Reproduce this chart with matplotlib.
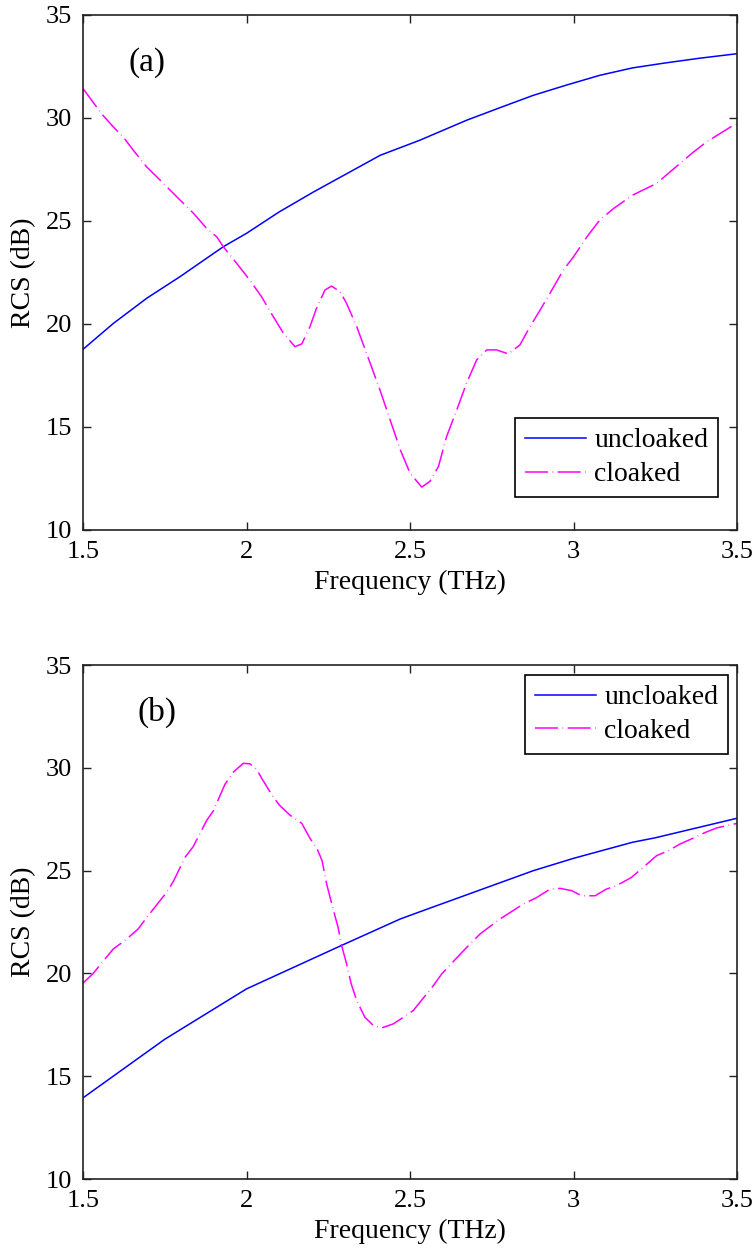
import matplotlib.pyplot as plt

plt.rcParams['font.family'] = ['Liberation Serif', 'DejaVu Serif']
plt.rcParams['font.size'] = 19

# -------------------------
# Data
# -------------------------
# (a) uncloaked
freq_a_unc = [1.5, 1.593, 1.695, 1.797, 1.929, 2.0, 2.10, 2.205, 2.307, 2.409,
              2.53, 2.673, 2.775, 2.877, 2.979, 3.08, 3.18, 3.28, 3.385, 3.5]
rcs_a_unc = [18.77, 20.03, 21.25, 22.3, 23.75, 24.4, 25.44, 26.41, 27.3, 28.19,
             28.92, 29.89, 30.5, 31.1, 31.6, 32.07, 32.43, 32.67, 32.9, 33.12]

# (a) cloaked
freq_a_clk = [1.5, 1.557, 1.593, 1.623, 1.654, 1.695, 1.736, 1.787, 1.838, 1.878,
              1.909, 1.929, 1.97, 2.01, 2.046, 2.082, 2.113, 2.148, 2.169, 2.194,
              2.214, 2.24, 2.26, 2.286, 2.306, 2.337, 2.367, 2.408, 2.439, 2.47,
              2.5, 2.536, 2.561, 2.587, 2.612, 2.643, 2.673, 2.704, 2.735, 2.765,
              2.8, 2.836, 2.867, 2.898, 2.928, 2.969, 3.0, 3.041, 3.08, 3.122,
              3.18, 3.254, 3.295, 3.367, 3.407, 3.48, 3.5]
rcs_a_clk = [31.43, 30.2, 29.56, 29.08, 28.43, 27.62, 26.98, 26.17, 25.37, 24.64,
             24.23, 23.75, 22.94, 22.13, 21.32, 20.35, 19.55, 18.9, 19.03, 19.87,
             20.76, 21.65, 21.84, 21.57, 21.0, 19.87, 18.58, 16.8, 15.35, 13.9,
             12.76, 12.08, 12.36, 13.08, 14.54, 15.83, 17.13, 18.26, 18.74, 18.74,
             18.55, 18.98, 19.87, 20.68, 21.49, 22.62, 23.26, 24.23, 25.04, 25.6,
             26.25, 26.82, 27.38, 28.35, 28.84, 29.56, 29.7]

# (b) uncloaked
freq_b_unc = [1.5, 1.75, 2.0, 2.29, 2.47, 2.53, 2.877, 3.0, 3.18, 3.25, 3.5]
rcs_b_unc = [13.95, 16.8, 19.25, 21.36, 22.65, 23.0, 25.0, 25.6, 26.38, 26.6, 27.55]

# (b) cloaked
freq_b_clk = [1.5, 1.531, 1.593, 1.628, 1.669, 1.695, 1.756, 1.777, 1.812, 1.837,
              1.878, 1.899, 1.934, 1.96, 1.99, 2.01, 2.03, 2.05, 2.077, 2.10,
              2.133, 2.169, 2.195, 2.216, 2.231, 2.245, 2.266, 2.28, 2.29, 2.306,
              2.32, 2.337, 2.362, 2.388, 2.413, 2.449, 2.48, 2.51, 2.571, 2.597,
              2.663, 2.694, 2.714, 2.775, 2.847, 2.888, 2.928, 2.959, 2.994, 3.025,
              3.066, 3.10, 3.13, 3.177, 3.213, 3.254, 3.29, 3.326, 3.367, 3.403,
              3.438, 3.5]
rcs_b_clk = [19.53, 20.0, 21.2, 21.6, 22.17, 22.73, 23.95, 24.5, 25.65, 26.17,
             27.44, 27.92, 29.2, 29.8, 30.22, 30.2, 29.95, 29.4, 28.7, 28.2,
             27.7, 27.3, 26.55, 26.06, 25.49, 24.36, 23.06, 22.25, 21.4, 20.47,
             19.5, 18.68, 17.87, 17.47, 17.35, 17.55, 17.87, 18.2, 19.4, 19.98,
             21.1, 21.6, 21.92, 22.65, 23.38, 23.7, 24.1, 24.14, 24.03, 23.78,
             23.78, 24.1, 24.26, 24.67, 25.16, 25.73, 25.97, 26.3, 26.59, 26.86,
             27.08, 27.3]

xticks = [1.5, 2, 2.5, 3, 3.5]
xticklabels = ['1.5', '2', '2.5', '3', '3.5']
yticks = [10, 15, 20, 25, 30, 35]

fig = plt.figure(figsize=(7.56, 12.49), dpi=100)
ax1 = fig.add_axes([0.1098, 0.5757, 0.8651, 0.4123])
ax2 = fig.add_axes([0.1098, 0.0560, 0.8651, 0.4115])

dash = (0, (15, 3, 0.4, 3))

panels = [
    (ax1, freq_a_unc, rcs_a_unc, freq_a_clk, rcs_a_clk, '(a)', 1.638, 'lower right', (0.971, 0.064)),
    (ax2, freq_b_unc, rcs_b_unc, freq_b_clk, rcs_b_clk, '(b)', 1.668, 'upper right', (0.986, 0.9805)),
]

for ax, fu, ru, fc, rc, tag, tx, loc, anchor in panels:
    ax.plot(fu, ru, color='#0000ff', lw=1.1, label='uncloaked')
    ax.plot(fc, rc, color='#ff00ff', lw=1.1, linestyle=dash, label='cloaked')
    ax.set_xlim(1.5, 3.5)
    ax.set_ylim(10, 35)
    ax.set_xticks(xticks)
    ax.set_xticklabels(xticklabels)
    ax.set_yticks(yticks)
    ax.tick_params(direction='in', top=True, right=True, length=6, width=1,
                   pad=8, colors='#222222', labelcolor='black', labelsize=19)
    for s in ax.spines.values():
        s.set_linewidth(1.2)
        s.set_color('#222222')
    ax.set_xlabel('Frequency (THz)', fontsize=20, labelpad=5)
    ax.set_ylabel('RCS (dB)', fontsize=20, labelpad=7)
    ax.text(tx, 32.7, tag, ha='left', va='center', fontsize=24)
    leg = ax.legend(loc=loc, bbox_to_anchor=anchor, borderaxespad=0, fancybox=False,
                    edgecolor='black', framealpha=1, handlelength=2.2, fontsize=20,
                    borderpad=0.35, labelspacing=0.3, handletextpad=0.3)
    leg.get_frame().set_linewidth(1.2)

fig.savefig('out.png', dpi=100)
